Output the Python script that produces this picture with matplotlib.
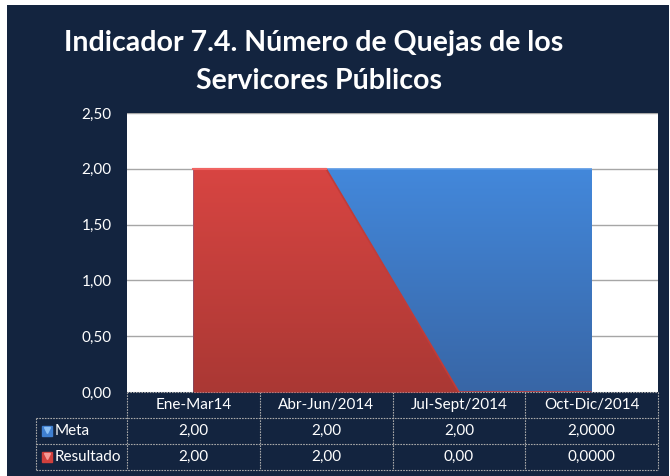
import matplotlib
matplotlib.use("Agg")
import matplotlib.pyplot as plt
import matplotlib.transforms as mtransforms
from matplotlib.patches import Rectangle
import numpy as np

plt.rcParams['font.family'] = ['Lato', 'DejaVu Sans']

## Data ##
categories = ['Ene-Mar14', 'Abr-Jun/2014', 'Jul-Sept/2014', 'Oct-Dic/2014']
meta = [2.0, 2.0, 2.0, 2.0]
resultado = [2.0, 2.0, 0.0, 0.0]
decimals = [2, 2, 2, 4]          # how the table prints each column
yticks = [0.0, 0.5, 1.0, 1.5, 2.0, 2.5]

bg = '#13243f'
W, H = 670, 476

fig = plt.figure(figsize=(W / 100, H / 100), dpi=100, facecolor='white')
# dark panel with a small white margin
fig.patches.append(Rectangle((7 / W, 0), (669 - 7) / W, 1 - 5 / H,
                             transform=fig.transFigure, facecolor=bg,
                             edgecolor='none', zorder=-10))

fig.text(314 / W, 1 - 43 / H, 'Indicador 7.4. Número de Quejas de los',
         color='white', fontsize=20.5, fontweight='bold', ha='center', va='center')
fig.text(319 / W, 1 - 81 / H, 'Servicores Públicos',
         color='white', fontsize=20.5, fontweight='bold', ha='center', va='center')

ax = fig.add_axes([127 / W, 1 - 392 / H, (658 - 127) / W, (392 - 113) / H])
ax.set_facecolor('white')
x = np.arange(len(categories))

for t in yticks[1:]:
    ax.axhline(t, color='#a6a6a6', lw=1, zorder=1)


def gradient_area(vals, top, bottom, edge, z):
    poly = ax.fill_between(x, vals, color=top, lw=0, zorder=z)
    grad = np.linspace(0, 1, 256).reshape(-1, 1)
    cmap = matplotlib.colors.LinearSegmentedColormap.from_list('g', [top, bottom])
    im = ax.imshow(grad, cmap=cmap, aspect='auto', extent=(-0.5, 3.5, 0.0, 2.0),
                   origin='upper', zorder=z + 0.1)
    im.set_clip_path(poly.get_paths()[0], transform=ax.transData)
    ax.plot(x, vals, color=edge, lw=1.2, zorder=z + 0.2, solid_capstyle='butt')
    return poly


gradient_area(meta, '#4388db', '#3866a6', '#5c9be6', 2)
gradient_area(resultado, '#d84542', '#aa3834', '#c13c39', 3)
# light highlight along the flat top of the red area
ax.plot(x[:2], resultado[:2], color='#f06462', lw=1.5, zorder=3.4)
ax.set_xlim(-0.5, len(categories) - 0.5)
ax.set_ylim(0, 2.5)

ax.set_yticks(yticks)
ax.set_yticklabels([f'{t:.2f}'.replace('.', ',') for t in yticks])
ax.tick_params(axis='y', length=0, pad=11, labelcolor='white', labelsize=11)
ax.set_xticks([])
for s in ax.spines.values():
    s.set_visible(False)

## Data table below the axis ##
tr = mtransforms.blended_transform_factory(ax.transData, ax.transAxes)
ph = 392 - 113
row_y = lambda px: -(px - 392) / ph
grid_kw = dict(color='#a9a9a9', lw=0.8, ls=(0, (1.5, 1)), transform=tr, clip_on=False)
left = -0.5 - (127 - 36) / ((658 - 127) / len(categories))

# horizontal lines
ax.plot([-0.5, 3.5], [row_y(392), row_y(392)], **grid_kw)
for py in [418, 444, 470]:
    ax.plot([left, 3.5], [row_y(py), row_y(py)], **grid_kw)
# vertical lines
for xb in np.arange(-0.5, 4, 1.0):
    ax.plot([xb, xb], [row_y(392), row_y(470)], **grid_kw)
ax.plot([left, left], [row_y(418), row_y(470)], **grid_kw)

for i, c in enumerate(categories):
    ax.text(i, row_y(405), c, transform=tr, ha='center', va='center',
            color='white', fontsize=11)

series = [('Meta', meta, '#3f7fd0', '#8cc0f5', 431),
          ('Resultado', resultado, '#d0403d', '#f59a97', 457)]
for name, vals, col, light, py in series:
    ax.plot([left + 0.08], [row_y(py)], marker='s', ms=7, color=col,
            transform=tr, clip_on=False)
    ax.plot([left + 0.08], [row_y(py) + 0.004], marker='v', ms=4, color=light,
            transform=tr, clip_on=False)
    ax.text(left + 0.14, row_y(py), name, transform=tr, ha='left', va='center',
            color='white', fontsize=11)
    for i, v in enumerate(vals):
        ax.text(i, row_y(py), f'{v:.{decimals[i]}f}'.replace('.', ','),
                transform=tr, ha='center', va='center', color='white', fontsize=11)

fig.savefig('out.png', dpi=100, facecolor=fig.get_facecolor())
